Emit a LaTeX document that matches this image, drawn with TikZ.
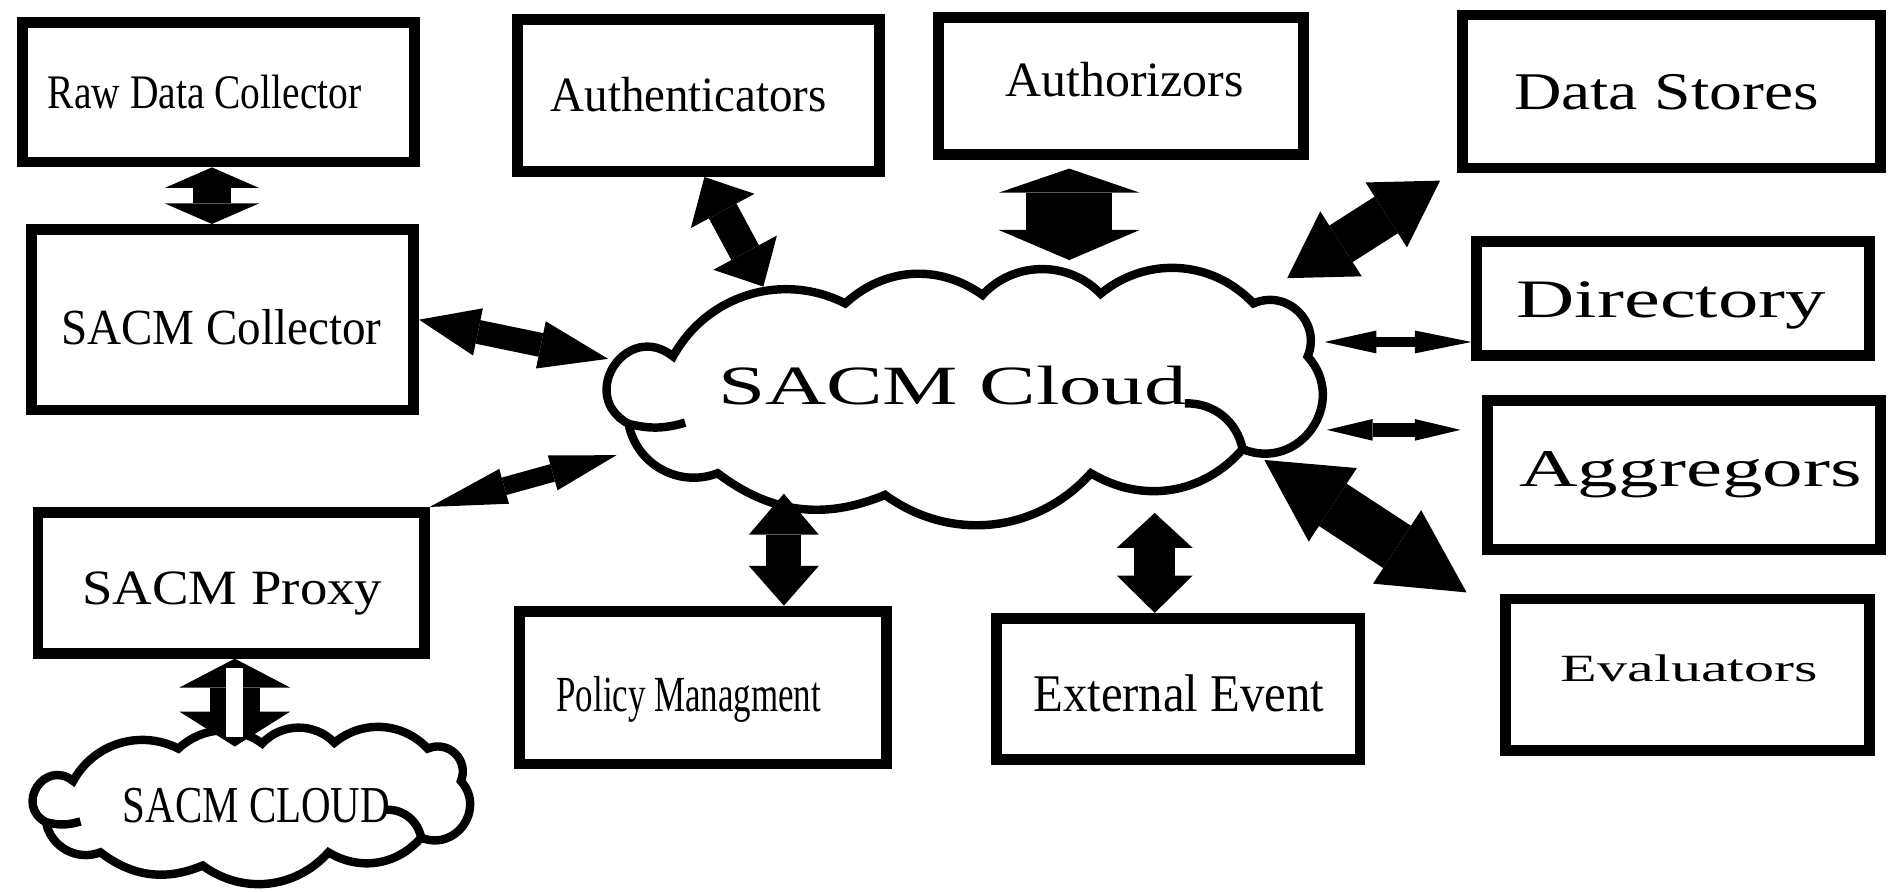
\documentclass[tikz,border=0pt]{standalone}
\usepackage{fontspec}
\setmainfont{Liberation Serif}
\usepackage{graphicx}
\usepackage{tikz}
\usetikzlibrary{arrows.meta}

\newcommand{\lbltext}[3]{\scalebox{#1}[1]{\fontsize{#2pt}{#2pt}\selectfont #3}}
% cloud outline, placed by shift and scale
\newcommand{\cloudat}[2]{%
  \begin{scope}[shift={(#1)}, scale=#2]
    \draw[line width=7pt] (24,129) to[bend left=95, looseness=1.87] (61,73)
      to[bend left=44] (204,29) to[bend left=39] (318,22)
      to[bend left=47] (416,21) to[bend left=43] (543,29)
      to[bend left=68, looseness=1.24] (588,73)
      to[bend left=77, looseness=1.39] (534,150)
      to[bend left=40] (408,170) to[bend left=42] (237,188)
      to[bend left=30] (98,170) to[bend left=50, looseness=1.04] (24,129);
    \draw[line width=7pt] (24,129) to[bend right=15] (71,128);
    \draw[line width=7pt] (534,150) to[bend right=40] (486,112);
  \end{scope}}

\begin{document}
\begin{tikzpicture}[x=1pt, y=-1pt,
    box/.style={draw, line width=9pt, inner sep=0pt},
    lbl/.style={inner sep=0pt, anchor=base},
    blk/.style n args={4}{line width=#1pt,
        arrows={Triangle[width=#2pt,length=#3pt,line width=0pt]-Triangle[width=#2pt,length=#4pt,line width=0pt]}}]

\useasboundingbox (0,0) rectangle (1568,740);

% boxes
\node[box, minimum width=326pt, minimum height=116pt] (raw) at (181.5,76.5) {};
\node[box, minimum width=301pt, minimum height=126pt] (authn) at (580,79.5) {};
\node[box, minimum width=303pt, minimum height=114pt] (authz) at (931,71.5) {};
\node[box, minimum width=347pt, minimum height=127pt] (store) at (1388,76) {};
\node[box, minimum width=317pt, minimum height=150pt] (coll) at (185,265.5) {};
\node[box, minimum width=326pt, minimum height=95pt] (dir) at (1389.5,248) {};
\node[box, minimum width=326pt, minimum height=124pt] (aggr) at (1398.5,394.5) {};
\node[box, minimum width=321pt, minimum height=117pt] (proxy) at (192,484) {};
\node[box, minimum width=305pt, minimum height=127pt] (policy) at (584,571) {};
\node[box, minimum width=302pt, minimum height=117pt] (extev) at (978.5,572) {};
\node[box, minimum width=302pt, minimum height=126pt] (eval) at (1401.5,560.5) {};

% clouds
\cloudat{498,223}{1}
\cloudat{23.5,604}{0.611}

% texts
\node[lbl] (rawt) at (170,90) {\lbltext{0.82}{40}{Raw Data Collector}};
\node[lbl] (authnt) at (572,93) {\lbltext{0.95}{41}{Authenticators}};
\node[lbl] (authzt) at (934,80) {\lbltext{1.01}{41}{Authorizors}};
\node[lbl] (storet) at (1384,91) {\lbltext{1.24}{44}{Data Stores}};
\node[lbl] (collt) at (184,286) {\lbltext{0.93}{42}{SACM Collector}};
\node[lbl] (dirt) at (1388,264) {\lbltext{1.49}{45}{Directory}};
\node[lbl] (aggrt) at (1404,404) {\lbltext{1.53}{44}{Aggregors}};
\node[lbl] (proxyt) at (193,502) {\lbltext{1.11}{41}{SACM Proxy}};
\node[lbl] (policyt) at (572,591) {\lbltext{0.69}{42}{Policy Managment}};
\node[lbl] (extevt) at (979,591) {\lbltext{0.92}{44}{External Event}};
\node[lbl] (evalt) at (1403,566) {\lbltext{1.56}{32}{Evaluators}};
\node[lbl] (sacmt) at (791,336) {\lbltext{1.53}{46}{SACM Cloud}};
\node[lbl] (sacmclt) at (213,683) {\lbltext{0.79}{43}{SACM CLOUD}};

% arrow ends
\coordinate (cl-authn) at (634,238);
\coordinate (az-top) at (888,140);
\coordinate (az-bot) at (888,216);
\coordinate (ds-top) at (1196,150);
\coordinate (ds-bot) at (1069,231);
\coordinate (cl-coll) at (505,298);
\coordinate (cl-dir) at (1100,284);
\coordinate (ag-l) at (1102,357);
\coordinate (ag-r) at (1213,357);
\coordinate (cl-proxy) at (512,378);
\coordinate (cl-pol) at (651,410);
\coordinate (cl-ext) at (959,426);
\coordinate (ev-l) at (1050,382);
\coordinate (ev-r) at (1218,492);
\coordinate (sc-top) at (195,620);
\coordinate (wt-a) at (195,555);
\coordinate (wt-b) at (195,612);

% arrows
\draw[blk={31}{78}{17}{17}] ([xshift=-5.5pt]raw.south) -- ([xshift=-9pt]coll.north);
\draw[blk={26}{60}{32}{32}] ([xshift=5pt]authn.south) -- (cl-authn);
\draw[blk={71}{117}{20}{25}] (az-top) -- (az-bot);
\draw[blk={36}{64}{53}{53}] (ds-top) -- (ds-bot);
\draw[blk={20}{40}{50}{57}] (coll.east) -- (cl-coll);
\draw[blk={8}{19}{43}{47}] (cl-dir) -- (dir.west |- cl-dir);
\draw[blk={12}{18}{38}{38}] (ag-l) -- (ag-r);
\draw[blk={15}{30}{64}{55}] (proxy.north east) -- (cl-proxy);
\draw[blk={29}{58}{34}{33}] (cl-pol) -- (cl-pol |- policy.north);
\draw[blk={34}{63}{29}{31}] (cl-ext) -- (cl-ext |- extev.north);
\draw[blk={42}{73}{68}{69}] (ev-l) -- (ev-r);
\draw[blk={42}{92}{24}{29}] (sc-top |- proxy.south) -- (sc-top);
\draw[white, line width=14pt] (wt-a) -- (wt-b);

\end{tikzpicture}
\end{document}
